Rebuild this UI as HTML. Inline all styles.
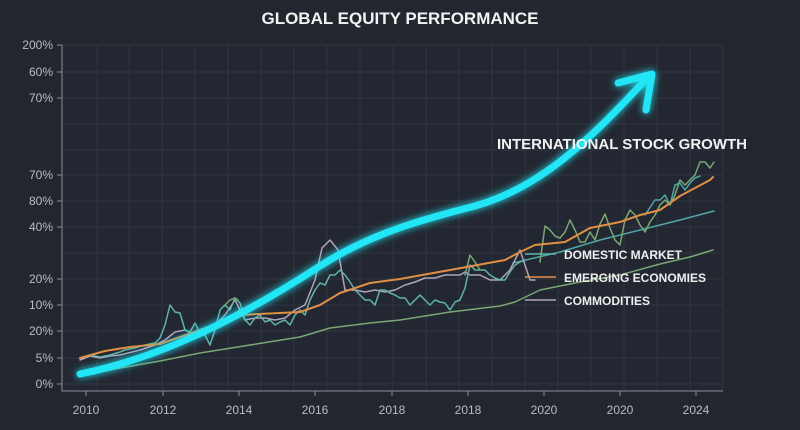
<!DOCTYPE html>
<html><head><style>
html,body{margin:0;padding:0;background:#22262f;}
svg{display:block;font-family:"Liberation Sans",sans-serif;}
</style></head><body>
<svg width="800" height="430" viewBox="0 0 800 430">
<defs>
<filter id="glow" x="-20%" y="-20%" width="140%" height="140%"><feGaussianBlur stdDeviation="4" result="b"/><feMerge><feMergeNode in="b"/><feMergeNode in="SourceGraphic"/></feMerge></filter>
</defs>
<rect width="800" height="430" fill="#22262f"/>
<rect x="62" y="45" width="661" height="346" fill="#232731"/>
<g stroke="#2f3440" stroke-width="1">
<path d="M62 45H723M62 72H723M62 98H723M62 124H723M62 150H723M62 175H723M62 201H723M62 227H723M62 253H723M62 279H723M62 305H723M62 331H723M62 358H723M62 384H723"/>
<path d="M97 45V391M129 45V391M162 45V391M195 45V391M228 45V391M261 45V391M294 45V391M327 45V391M360 45V391M393 45V391M426 45V391M459 45V391M492 45V391M525 45V391M558 45V391M591 45V391M624 45V391M657 45V391M690 45V391M723 45V391"/>
</g>
<g stroke="#8a8f99" stroke-width="1" fill="none">
<path d="M62 45V391H723"/>
<path d="M57 45H62M57 72H62M57 98H62M57 175H62M57 201H62M57 227H62M57 279H62M57 305H62M57 331H62M57 358H62M57 384H62"/>
<path d="M86 391V396M163 391V396M239 391V396M315 391V396M392 391V396M468 391V396M544 391V396M620 391V396M696 391V396"/>
</g>
<g fill="#b8bcc4" font-size="12" text-anchor="end">
<text x="53" y="49">200%</text><text x="53" y="76">60%</text><text x="53" y="102">70%</text>
<text x="53" y="179">70%</text><text x="53" y="205">80%</text><text x="53" y="231">40%</text>
<text x="53" y="283">20%</text><text x="53" y="309">10%</text><text x="53" y="335">20%</text>
<text x="53" y="362">5%</text><text x="53" y="388">0%</text>
</g>
<g fill="#b8bcc4" font-size="12" text-anchor="middle">
<text x="86" y="414">2010</text><text x="163" y="414">2012</text><text x="239" y="414">2014</text>
<text x="315" y="414">2016</text><text x="392" y="414">2018</text><text x="468" y="414">2018</text>
<text x="544" y="414">2020</text><text x="620" y="414">2020</text><text x="696" y="414">2024</text>
</g>
<text x="400" y="24" fill="#f2f2f2" font-size="17" font-weight="bold" text-anchor="middle">GLOBAL EQUITY PERFORMANCE</text>
<g fill="none" stroke-linejoin="round" stroke-linecap="round" stroke-width="1.5">
<polyline stroke="#7aa874" points="80,376 120,368 160,361 200,353 250,345 300,337 330,328 370,323 400,320 450,312 500,306 515,302 540,290 580,282 620,275 660,264 690,257 713,250"/>
<polyline stroke="#4fa6a8" points="513,263 560,252 600,240 640,230 680,220 714,211"/>
<polyline stroke="#b2a4be" points="80,360 90,356 100,358 110,356 120,355 140,350 155,345 165,340 175,332 185,330 195,335 205,335 215,325 225,315 235,300 245,320 255,318 265,318 275,320 285,318 295,310 305,305 315,280 322,248 330,240 338,250 345,290 355,290 365,292 375,290 385,292 395,290 405,285 415,282 425,278 435,278 445,275 455,275 460,275 465,272 470,275 480,275 490,280 500,280 510,270 520,250 530,280 535,280"/>
<polyline stroke="#5fb5a8" points="80,358 90,355 100,357 110,355 120,352 125,350 135,348 145,345 155,343 160,338 165,325 170,305 175,312 180,313 185,330 190,332 195,323 200,333 205,335 210,345 215,330 220,310 225,305 230,310 235,298 240,303 245,320 250,325 255,318 260,315 265,322 270,320 275,325 280,322 285,320 290,325 295,315 300,310 305,315 310,300 315,290 320,283 325,285 330,275 335,275 340,270 345,275 350,282 355,290 360,295 365,300 370,300 375,305 380,290 385,290 390,293 395,295 400,298 405,298 410,305 415,300 420,295 425,300 430,305 435,300 440,302 445,303 450,310 455,302 460,300 465,288 470,265 475,270 480,270 485,270 490,275 495,278 500,280 505,280 510,272 515,265 520,262 525,260"/>
<polyline stroke="#7aa874" points="225,305 230,300 235,298 238,300"/>
<polyline stroke="#7aa874" points="465,275 470,255 475,262 480,270"/>
<polyline stroke="#7aa874" points="540,262 545,226 550,230 555,236 560,238 565,232 570,220 575,230 580,242 585,242 590,232 595,240 600,224 605,214 610,228 615,240 620,245 625,220 630,210 635,215 640,225 645,232 650,222 655,215 660,205 665,200 670,205 675,195 680,180 685,185 690,180 695,175 700,162 705,162 710,168 714,162"/>
<polyline stroke="#4fa6a8" points="645,215 655,200 660,200 665,195 670,205 675,185 680,183 685,190 690,183 695,178 700,176"/>
<polyline stroke="#e08f45" stroke-width="2" points="80,358 105,351 130,347 160,344 200,330 240,315 300,312 320,305 340,293 370,283 400,279 450,270 505,260 520,252 535,245 565,242 590,228 620,222 640,215 660,210 680,196 710,180 713,177"/>
</g>
<g fill="none" stroke="#22e5f5" stroke-width="7" stroke-linecap="round" stroke-linejoin="round" filter="url(#glow)">
<path d="M80 374C160 358 240 318 320 266C370 234 420 220 475 206C540 188 590 140 648 77"/>
<path d="M618 83L652 74 646 110"/>
</g>
<text x="497" y="149" fill="#f2f2f2" font-size="15" font-weight="bold">INTERNATIONAL STOCK GROWTH</text>
<g stroke-width="1.5"><line x1="525" y1="254" x2="556" y2="254" stroke="#5fb5a8"/><line x1="525" y1="277" x2="556" y2="277" stroke="#e08f45"/><line x1="525" y1="300" x2="556" y2="300" stroke="#b2a4be"/></g>
<g fill="#eeeeee" font-size="12" font-weight="bold"><text x="564" y="259">DOMESTIC MARKET</text><text x="564" y="282">EMERGING ECONOMIES</text><text x="564" y="305">COMMODITIES</text></g>
</svg>
</body></html>
